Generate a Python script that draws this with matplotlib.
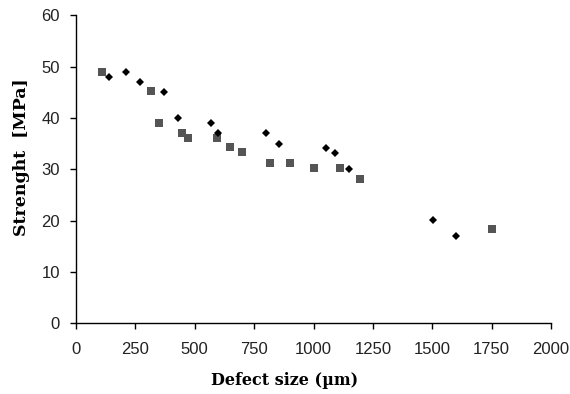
import matplotlib
matplotlib.use('Agg')
import matplotlib.pyplot as plt

# series 1 (grey squares)
sq_x = [110, 315, 350, 445, 470, 595, 650, 700, 815, 900, 1000, 1110, 1195, 1750]
sq_y = [49, 45.3, 39.1, 37.1, 36.1, 36.1, 34.3, 33.3, 31.2, 31.2, 30.2, 30.2, 28.1, 18.3]

# series 2 (black diamonds)
dm_x = [140, 210, 268, 371, 430, 569, 600, 801, 853, 1051, 1090, 1151, 1502, 1600]
dm_y = [47.9, 49, 47, 45.1, 39.9, 39, 37.1, 37, 34.9, 34.2, 33.1, 30, 20.1, 17]

x_ticks = [0, 250, 500, 750, 1000, 1250, 1500, 1750, 2000]
y_ticks = [0, 10, 20, 30, 40, 50, 60]

fig = plt.figure(figsize=(5.7, 3.94), dpi=100)
ax = fig.add_axes([0.1333, 0.18, 0.8334, 0.781])

ax.plot(sq_x, sq_y, 's', color='#555555', markersize=5.5, markeredgewidth=0)
ax.plot(dm_x, dm_y, 'D', color='black', markersize=4.5, markeredgewidth=0)

ax.set_xlim(0, 2000)
ax.set_ylim(0, 60)
ax.set_xticks(x_ticks)
ax.set_yticks(y_ticks)
for s in ['top', 'right']:
    ax.spines[s].set_visible(False)
for s in ['left', 'bottom']:
    ax.spines[s].set_linewidth(1.0)
ax.tick_params(direction='out', length=4.5, width=1.0, labelsize=12)
ax.tick_params(axis='x', pad=9)
ax.tick_params(axis='y', pad=7)
for lab in ax.get_xticklabels() + ax.get_yticklabels():
    lab.set_fontfamily('Liberation Sans')
    lab.set_color('#222222')

ax.set_xlabel('Defect size (\u00b5m)', fontfamily='DejaVu Serif',
              fontweight='bold', fontsize=11.5, labelpad=11, x=0.44)
ax.set_ylabel('Strenght  [MPa]', fontfamily='DejaVu Serif',
              fontweight='bold', fontsize=12.5, labelpad=8, y=0.54)

fig.savefig('out.png', dpi=100)
